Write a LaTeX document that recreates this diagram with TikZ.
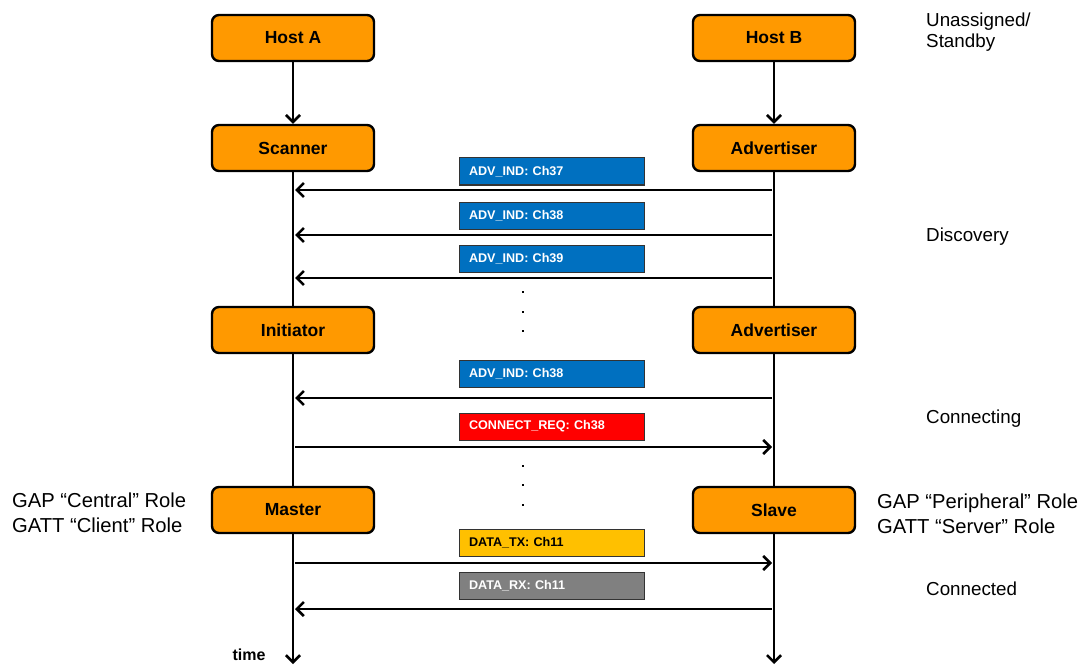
\documentclass[tikz,border=0pt]{standalone}
\usepackage{fontspec}
\setmainfont{Liberation Sans}
\usetikzlibrary{arrows.meta,calc}
\definecolor{boxorange}{HTML}{FF9900}
\definecolor{msgblue}{HTML}{0070C0}
\definecolor{msgred}{HTML}{FF0000}
\definecolor{msggold}{HTML}{FFC000}
\definecolor{msggray}{HTML}{808080}
\tikzset{
  rolebox/.style={draw=black, line width=2.4pt, fill=boxorange, rounded corners=7pt,
    minimum width=162pt, minimum height=46pt, inner sep=0pt, font=\bfseries\fontsize{17.5}{20}\selectfont},
  msgbox/.style={draw=black!80, line width=1pt, minimum width=185pt, minimum height=27pt,
    inner sep=0pt, text width=165pt, align=left, font=\bfseries\fontsize{12.6}{14}\selectfont},
  lifeline/.style={line width=2.6pt},
  msgarrow/.style={line width=2.6pt, -{Straight Barb[length=7pt,width=14pt,line width=2.6pt]}},
  timearrow/.style={line width=2.6pt, -{Straight Barb[length=7pt,width=14pt,line width=2.6pt]}},
  phase/.style={anchor=west, font=\fontsize{18.8}{21}\selectfont, align=left, inner sep=0pt},
  rolelabel/.style={anchor=west, font=\fontsize{20.2}{24.5}\selectfont, align=left, inner sep=0pt},
  dot/.style={fill=black, minimum size=2pt, inner sep=0pt},
}
\begin{document}
\begin{tikzpicture}[x=1pt,y=-1pt]
\useasboundingbox (0,0) rectangle (1090,666);
% role boxes
\node[rolebox] (hostA) at (293,38) {Host A};
\node[rolebox] (hostB) at (774,38) {Host B};
\node[rolebox] (scan) at (293,148) {Scanner};
\node[rolebox] (adv1) at (774,148) {Advertiser};
\node[rolebox] (init) at (293,330) {Initiator};
\node[rolebox] (adv2) at (774,330) {Advertiser};
\node[rolebox] (master) at (293,510) {Master};
\node[rolebox] (slave) at (774,510) {Slave};
\coordinate (endA) at (293,664);
\coordinate (endB) at (774,664);
% lifelines
\draw[timearrow] (hostA) -- (scan);
\draw[timearrow] (hostB) -- (adv1);
\draw[lifeline] (scan) -- (init);
\draw[lifeline] (adv1) -- (adv2);
\draw[lifeline] (init) -- (master);
\draw[lifeline] (adv2) -- (slave);
\draw[timearrow] (master) -- (endA);
\draw[timearrow] (slave) -- (endB);
% messages
\node[msgbox, fill=msgblue, text=white] (m1) at (551.5,171.5) {ADV\_IND: Ch37};
\node[msgbox, fill=msgblue, text=white] (m2) at (551.5,215.5) {ADV\_IND: Ch38};
\node[msgbox, fill=msgblue, text=white] (m3) at (551.5,258.5) {ADV\_IND: Ch39};
\node[msgbox, fill=msgblue, text=white] (m4) at (551.5,373.5) {ADV\_IND: Ch38};
\node[msgbox, fill=msgred, text=white] (m5) at (551.5,426.5) {CONNECT\_REQ: Ch38};
\node[msgbox, fill=msggold, text=black] (m6) at (551.5,542.5) {DATA\_TX: Ch11};
\node[msgbox, fill=msggray, text=white] (m7) at (551.5,585.5) {DATA\_RX: Ch11};
\foreach \n/\y in {a1/190,a2/235,a3/278,a4/398,a5/447,a6/563,a7/609}{
  \coordinate (L\n) at (295,\y);
  \coordinate (R\n) at (772,\y);
}
\draw[msgarrow] (Ra1) -- (La1);
\draw[msgarrow] (Ra2) -- (La2);
\draw[msgarrow] (Ra3) -- (La3);
\draw[msgarrow] (Ra4) -- (La4);
\draw[msgarrow] (La5) -- (Ra5);
\draw[msgarrow] (La6) -- (Ra6);
\draw[msgarrow] (Ra7) -- (La7);
% dots
\foreach \y [count=\i] in {292,312,331,466,485,505}{
  \node[dot] (d\i) at (523,\y) {};
}
% phase labels
\node[phase] (p1) at (926,32) {Unassigned/\\Standby};
\node[phase] (p2) at (926,237) {Discovery};
\node[phase] (p3) at (926,419) {Connecting};
\node[phase] (p4) at (926,589) {Connected};
\node[rolelabel] (gl) at (12,513) {GAP “Central” Role\\GATT “Client” Role};
\node[rolelabel] (gr) at (877,514) {GAP “Peripheral” Role\\GATT “Server” Role};
\node[anchor=center, font=\bfseries\fontsize{16}{18}\selectfont, inner sep=0pt] (time) at (249,655) {time};
\end{tikzpicture}
\end{document}
